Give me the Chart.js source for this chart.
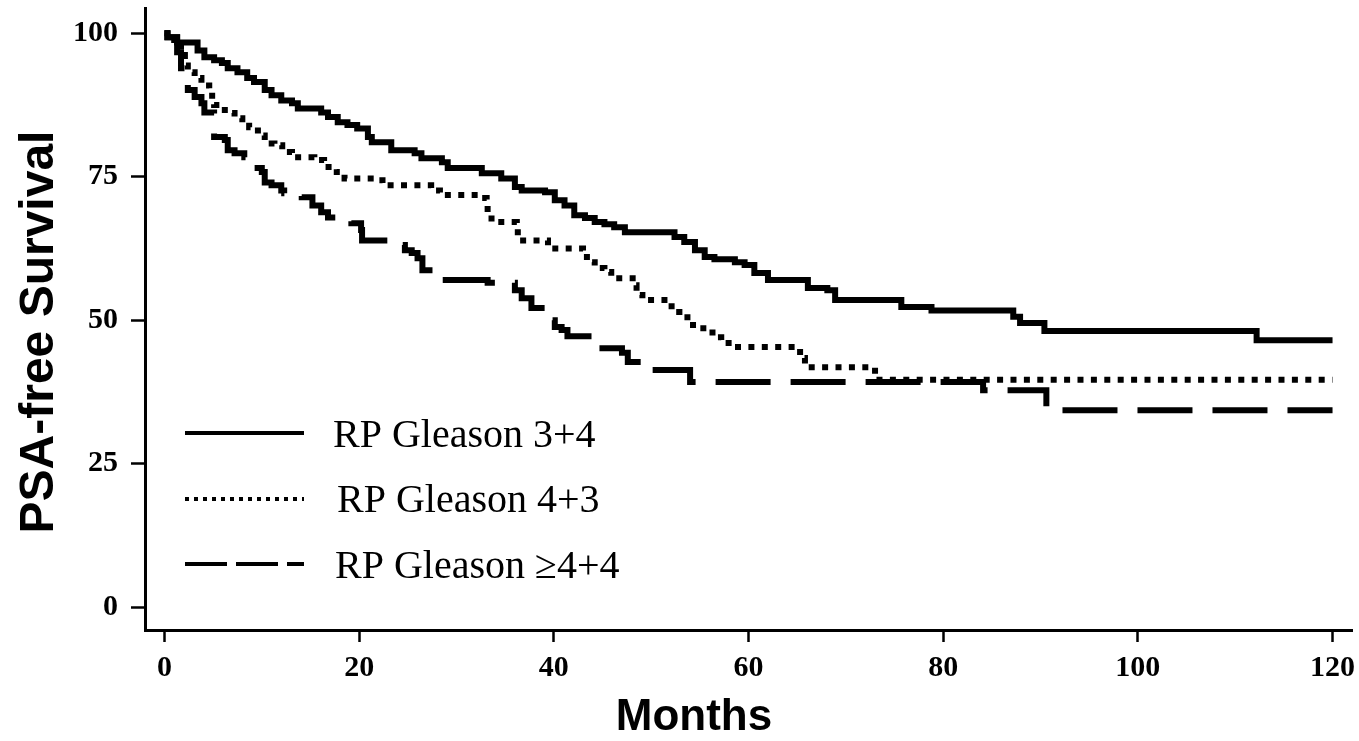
<!DOCTYPE html>
<html>
<head>
<meta charset="utf-8">
<title>PSA-free Survival</title>
<script src="https://cdn.jsdelivr.net/npm/chart.js@4.4.1/dist/chart.umd.min.js"></script>
<style>
  html, body { margin: 0; padding: 0; background: #fff; }
  #wrap { width: 1359px; height: 741px; }
</style>
</head>
<body>
<div id="wrap"><canvas id="km"></canvas></div>
<script>
// Kaplan-Meier steps: month of the drop, survival (%) after the drop

// RP Gleason 3+4 (solid)
const g34Months = [0, 0.3, 1.3, 3.4, 4.1, 5.1, 5.9, 6.5, 7.5, 8.5, 9.2, 10.3, 11.0, 12.0, 13.1, 13.7,
  16.1, 16.8, 17.8, 18.8, 19.8, 20.9, 21.3, 23.3, 25.7, 26.4, 28.5, 29.1, 32.6, 34.6, 36.0, 36.7,
  39.1, 40.1, 41.1, 42.1, 43.2, 44.2, 45.2, 46.2, 47.3, 52.4, 53.4, 54.5, 55.5, 56.5, 58.6, 59.6,
  60.6, 62.0, 66.1, 68.1, 68.9, 75.7, 78.8, 87.2, 87.9, 90.4, 112.2, 120];
const g34Surv = [100, 99.3, 98.4, 97.0, 95.8, 95.3, 94.8, 93.9, 93.2, 92.2, 91.5, 90.1, 89.2, 88.3, 87.8, 86.9,
  86.2, 85.4, 84.5, 84.0, 83.4, 81.9, 81.0, 79.6, 79.1, 78.2, 77.5, 76.5, 75.6, 74.7, 73.2, 72.6,
  72.3, 70.9, 70.0, 68.3, 67.8, 67.1, 66.7, 66.2, 65.3, 64.5, 63.6, 62.2, 61.0, 60.6, 60.1, 59.6,
  58.2, 57.0, 55.6, 55.2, 53.5, 52.3, 51.7, 50.6, 49.5, 48.1, 46.5, 46.5];

// RP Gleason 4+3 (dotted)
const g43Months = [0, 0.3, 1.0, 1.7, 2.1, 2.4, 3.1, 3.8, 4.6, 4.9, 5.1, 6.2, 7.2, 8.0, 8.7, 9.6,
  10.3, 11.3, 12.1, 13.1, 15.4, 16.4, 17.7, 18.5, 21.6, 22.4, 27.4, 28.3, 32.2, 33.1, 33.2, 33.6,
  36.2, 36.3, 39.4, 43.0, 43.4, 44.2, 45.2, 45.9, 48.1, 48.5, 49.1, 51.9, 52.1, 52.9, 54.3, 56.3,
  57.2, 58.3, 65.3, 65.8, 73.0, 120];
const g43Surv = [100, 99.1, 97.9, 96.2, 94.4, 93.2, 92.2, 90.9, 90.4, 88.3, 87.5, 86.1, 85.2, 84.5, 83.6, 82.2,
  80.8, 80.5, 79.3, 78.4, 77.9, 76.7, 75.8, 74.7, 74.4, 73.5, 72.6, 71.8, 71.3, 70.4, 68.3, 67.1,
  66.2, 63.9, 62.5, 61.7, 60.1, 59.1, 58.4, 57.3, 56.1, 54.4, 53.5, 53.1, 51.4, 50.5, 48.6, 47.0,
  46.0, 45.3, 43.4, 41.8, 39.6, 39.6];

// RP Gleason >=4+4 (dashed)
const g44Months = [0, 0.3, 1.3, 1.7, 2.4, 3.1, 3.8, 4.1, 5.1, 6.2, 6.5, 7.2, 8.2, 9.2, 10.0, 10.3,
  11.0, 12.0, 12.3, 14.1, 15.2, 16.1, 16.8, 19.2, 20.2, 20.3, 24.2, 24.7, 25.4, 26.0, 26.5, 28.3,
  33.2, 36.0, 36.7, 37.7, 39.3, 40.1, 40.8, 41.4, 44.0, 47.0, 47.6, 49.5, 54.0, 84.1, 90.6, 120];
const g44Surv = [100, 99.3, 96.7, 93.9, 90.1, 88.9, 87.8, 86.2, 81.9, 81.4, 79.6, 79.1, 78.4, 76.5, 75.8, 74.0,
  73.5, 72.6, 72.1, 71.4, 70.0, 68.8, 67.9, 66.9, 65.7, 63.9, 63.1, 62.2, 61.7, 60.8, 58.7, 57.0,
  56.5, 55.2, 53.8, 52.1, 50.0, 48.8, 48.3, 47.2, 45.1, 44.3, 42.7, 41.3, 39.2, 37.8, 34.3, 34.3];

const seriesNames = ['RP Gleason 3+4', 'RP Gleason 4+3', 'RP Gleason \u22654+4'];
const xTicks = [0, 20, 40, 60, 80, 100, 120];
const yTicks = [0, 25, 50, 75, 100];
const xTitle = 'Months';
const yTitle = 'PSA-free Survival';

function toPoints(months, surv) {
  return months.map((m, i) => ({x: m, y: surv[i]}));
}

const tickFont = {family: '"Liberation Serif", "Times New Roman", serif', weight: 'bold', size: 30};

// legend drawn inside the plot, as in the figure
const legendPlugin = {
  id: 'kmLegend',
  afterDraw(chart) {
    const ctx = chart.ctx;
    const keys = [
      {dash: [], width: 4, lineY: 433, textX: 333, textY: 447},
      {dash: [4, 5], width: 4, lineY: 499, textX: 337, textY: 512},
      {dash: [42, 9], width: 4, lineY: 564, textX: 335, textY: 578}
    ];
    ctx.save();
    keys.forEach((k, i) => {
      ctx.beginPath();
      ctx.setLineDash(k.dash);
      ctx.lineWidth = k.width;
      ctx.lineCap = 'butt';
      ctx.strokeStyle = '#000';
      ctx.moveTo(185, k.lineY);
      ctx.lineTo(304, k.lineY);
      ctx.stroke();
      ctx.setLineDash([]);
      ctx.fillStyle = '#000';
      ctx.font = '40px "Liberation Serif", "Times New Roman", serif';
      ctx.textAlign = 'left';
      ctx.textBaseline = 'alphabetic';
      ctx.fillText(seriesNames[i], k.textX, k.textY);
    });
    ctx.restore();
  }
};

// axis titles (the x title sits left of the axis centre in the figure)
const titlePlugin = {
  id: 'axisTitles',
  afterDraw(chart) {
    const ctx = chart.ctx;
    ctx.save();
    ctx.fillStyle = '#000';
    ctx.textAlign = 'center';
    ctx.textBaseline = 'middle';
    ctx.font = 'bold 44px "Liberation Sans", Arial, sans-serif';
    ctx.fillText(xTitle, 694, 718);
    ctx.translate(40, 332);
    ctx.rotate(-Math.PI / 2);
    ctx.font = 'bold 48px "Liberation Sans", Arial, sans-serif';
    ctx.fillText(yTitle, 0, 0);
    ctx.restore();
  }
};

const config = {
  type: 'line',
  data: {
    datasets: [{
      label: seriesNames[0],
      data: toPoints(g34Months, g34Surv),
      borderColor: '#000',
      borderWidth: 6,
      stepped: 'before',
      pointRadius: 0,
      fill: false
    },
    {
      label: seriesNames[1],
      data: toPoints(g43Months, g43Surv),
      borderColor: '#000',
      borderWidth: 6,
      borderDash: [6, 7.4],
      borderCapStyle: 'butt',
      stepped: 'before',
      pointRadius: 0,
      fill: false
    },
    {
      label: seriesNames[2],
      data: toPoints(g44Months, g44Surv),
      borderColor: '#000',
      borderWidth: 6,
      borderDash: [55, 20],
      borderCapStyle: 'butt',
      stepped: 'before',
      pointRadius: 0,
      fill: false
    }]
  },
  options: {
    responsive: true,
    maintainAspectRatio: false,
    devicePixelRatio: 1,
    animation: false,
    layout: {padding: {top: 8, right: 7, bottom: 0, left: 0}},
    plugins: {legend: {display: false}, tooltip: {enabled: false}},
    scales: {
      x: {
        type: 'linear',
        min: -2,
        max: 122,
        afterBuildTicks: s => { s.ticks = xTicks.map(v => ({value: v})); },
        afterFit: s => { s.height = 111; s.paddingLeft = 0; s.paddingRight = 0; },
        grid: {drawOnChartArea: false, drawTicks: true, tickLength: 12, tickWidth: 2.5, tickColor: '#000'},
        border: {display: true, color: '#000', width: 3},
        ticks: {color: '#000', font: tickFont, padding: 8, maxRotation: 0, autoSkip: false}
      },
      y: {
        type: 'linear',
        min: -4,
        max: 104.4,
        afterBuildTicks: s => { s.ticks = yTicks.map(v => ({value: v})); },
        afterFit: s => { s.width = 145; s.paddingTop = 0; s.paddingBottom = 0; },
        grid: {drawOnChartArea: false, drawTicks: true, tickLength: 14, tickWidth: 2.5, tickColor: '#000'},
        border: {display: true, color: '#000', width: 3},
        ticks: {color: '#000', font: tickFont, padding: 13}
      }
    }
  },
  plugins: [legendPlugin, titlePlugin]
};

const kmChart = new Chart(document.getElementById('km'), config);
</script>
</body>
</html>
